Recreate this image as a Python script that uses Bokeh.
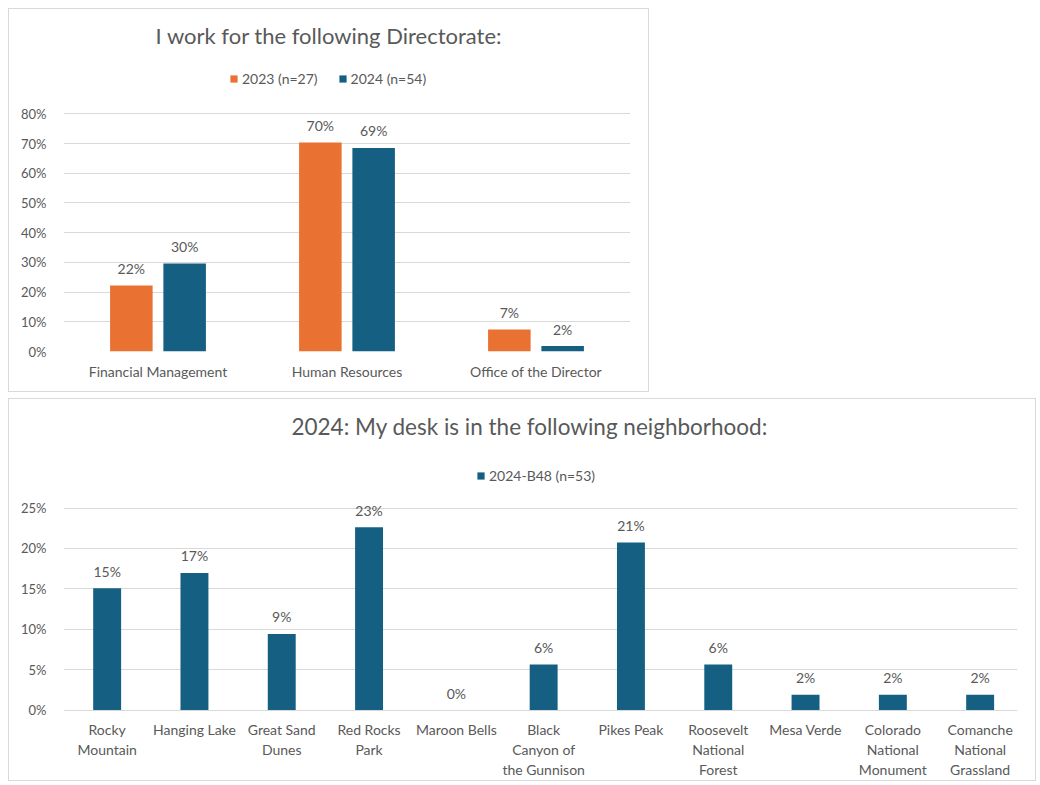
from bokeh.plotting import figure
from bokeh.models import (ColumnDataSource, FactorRange, Range1d, Legend, LegendItem,
                          NumeralTickFormatter, FixedTicker)
from bokeh.layouts import column
from bokeh.transform import dodge
from bokeh.core.properties import value
from bokeh.embed import file_html
from bokeh.resources import INLINE

# ---------------- data ----------------
directorates = ["Financial Management", "Human Resources", "Office of the Director"]
share_2023 = [0.2222, 0.7037, 0.0741]
share_2024 = [0.2963, 0.6852, 0.0185]
series_2023 = "2023 (n=27)"
series_2024 = "2024 (n=54)"
title_top = "I work for the following Directorate:"

neighborhoods = ["Rocky Mountain", "Hanging Lake", "Great Sand Dunes", "Red Rocks Park",
                 "Maroon Bells", "Black Canyon of the Gunnison", "Pikes Peak",
                 "Roosevelt National Forest", "Mesa Verde", "Colorado National Monument",
                 "Comanche National Grassland"]
neighborhood_labels = ["Rocky\nMountain", "Hanging Lake", "Great Sand\nDunes", "Red Rocks\nPark",
                       "Maroon Bells", "Black\nCanyon of\nthe Gunnison", "Pikes Peak",
                       "Roosevelt\nNational\nForest", "Mesa Verde", "Colorado\nNational\nMonument",
                       "Comanche\nNational\nGrassland"]
share_b48 = [0.1509, 0.1698, 0.0943, 0.2264, 0.0, 0.0566, 0.2075, 0.0566, 0.0189, 0.0189, 0.0189]
series_b48 = "2024-B48 (n=53)"
title_bottom = "2024: My desk is in the following neighborhood:"

top_ticks = [0, 0.1, 0.2, 0.3, 0.4, 0.5, 0.6, 0.7, 0.8]
bottom_ticks = [0, 0.05, 0.10, 0.15, 0.20, 0.25]

# ---------------- style ----------------
ORANGE = "#E97132"
BLUE = "#156082"
TXT = "#595959"
GRID = "#D9D9D9"
FONT = "Lato"


def pct(v):
    return f"{round(v * 100)}%"


def style(p, ticks, top):
    p.outline_line_color = None
    p.xgrid.grid_line_color = None
    p.ygrid.grid_line_color = GRID
    p.ygrid.grid_line_width = 1
    p.ygrid.bounds = (0, top)
    p.ygrid.ticker = FixedTicker(ticks=ticks)
    axes = list(p.yaxis) + list(p.xaxis)
    for ax in axes:
        ax.axis_line_color = None
        ax.major_tick_line_color = None
        ax.minor_tick_line_color = None
        ax.major_label_text_font = FONT
        ax.major_label_text_font_size = "14px"
        ax.major_label_text_color = TXT
    y = p.yaxis[0]
    y.major_label_text_font_size = "13px"
    y.formatter = NumeralTickFormatter(format="0%")
    y.ticker = FixedTicker(ticks=ticks)
    y.bounds = (0, top)
    y.major_label_standoff = 11
    p.styles = {"border": "1px solid #D9D9D9"}


def add_title(p, text, xc, dx, dy, size):
    s = ColumnDataSource(dict(x=[xc], y=[p.y_range.end], t=[text]))
    p.text(x="x", y="y", text="t", source=s, x_offset=dx, y_offset=dy,
           text_font=value(FONT), text_font_size=size, text_color=TXT,
           text_align="center", text_baseline="middle")


# ---------------- top chart ----------------
src1 = ColumnDataSource(dict(cat=directorates, a=share_2023, b=share_2024,
                             la=[pct(v) for v in share_2023], lb=[pct(v) for v in share_2024]))
top_scale = 237 / 0.8
p1 = figure(width=641, height=384, output_backend="svg", toolbar_location=None,
            x_range=FactorRange(*directorates),
            y_range=Range1d(0, 0.8 + 104 / top_scale),
            min_border_left=54, min_border_right=20,
            min_border_top=0, min_border_bottom=42)
style(p1, top_ticks, 0.8)
p1.xaxis[0].major_label_standoff = 5

r_a = p1.vbar(x=dodge("cat", -0.141, range=p1.x_range), top="a", width=0.225,
              source=src1, fill_color=ORANGE, line_color=None)
r_b = p1.vbar(x=dodge("cat", 0.141, range=p1.x_range), top="b", width=0.225,
              source=src1, fill_color=BLUE, line_color=None)
for col, lab, off in (("a", "la", -0.141), ("b", "lb", 0.141)):
    p1.text(x=dodge("cat", off, range=p1.x_range), y=col, text=lab, source=src1,
            text_font=value(FONT), text_font_size="14px", text_color=TXT,
            text_align="center", text_baseline="middle", y_offset=-17)
add_title(p1, title_top, len(directorates) / 2, -18, 26, "22px")

leg1 = Legend(items=[LegendItem(label=series_2023, renderers=[r_a]),
                     LegendItem(label=series_2024, renderers=[r_b])],
              orientation="horizontal", location=(166, 264), padding=0, margin=0,
              spacing=20, glyph_width=9, glyph_height=9, label_height=16,
              label_standoff=4, label_text_font=FONT, label_text_font_size="14px",
              label_text_color=TXT, border_line_color=None, background_fill_alpha=0)
p1.add_layout(leg1, "center")

# ---------------- bottom chart ----------------
# categories placed at slot centres (index + 0.5) on a numeric axis; the range
# ends slightly past the last slot so that each slot is ~87px wide as in the original
n_b = len(neighborhoods)
slot = [i + 0.5 for i in range(n_b)]
src2 = ColumnDataSource(dict(x=slot, v=share_b48, lab=[pct(v) for v in share_b48]))
bot_scale = 201 / 0.25
p2 = figure(width=1028, height=383, output_backend="svg", toolbar_location=None,
            x_range=Range1d(0, 954 / 87.3), x_axis_location=None,
            y_range=Range1d(-72 / bot_scale, 0.25 + 108 / bot_scale),
            min_border_left=54, min_border_right=0,
            min_border_top=0, min_border_bottom=0)
style(p2, bottom_ticks, 0.25)

r_c = p2.vbar(x="x", top="v", width=0.32, source=src2, fill_color=BLUE, line_color=None)
p2.text(x="x", y="v", text="lab", source=src2,
        text_font=value(FONT), text_font_size="14px", text_color=TXT,
        text_align="center", text_baseline="middle", y_offset=-17)
add_title(p2, title_bottom, n_b / 2, -14, 27, "22.5px")

# wrapped category labels below the baseline, one row per text line
lx, lt, lo = [], [], []
for xc, wrapped in zip(slot, neighborhood_labels):
    for j, line in enumerate(wrapped.split("\n")):
        lx.append(xc)
        lt.append(line)
        lo.append(19 + 20 * j)
src_lab = ColumnDataSource(dict(x=lx, t=lt, off=lo, y=[0] * len(lx)))
p2.text(x="x", y="y", text="t", y_offset="off", source=src_lab,
        text_font=value(FONT), text_font_size="14px", text_color=TXT,
        text_align="center", text_baseline="middle")

leg2 = Legend(items=[LegendItem(label=series_b48, renderers=[r_c])],
              orientation="horizontal", location=(413, 298), padding=0, margin=0,
              glyph_width=9, glyph_height=9, label_height=16,
              label_standoff=4, label_text_font=FONT, label_text_font_size="14px",
              label_text_color=TXT, border_line_color=None, background_fill_alpha=0)
p2.add_layout(leg2, "center")

layout = column(p1, p2, spacing=6, margin=(8, 0, 0, 8))
open("out.html", "w").write(file_html(layout, INLINE))
